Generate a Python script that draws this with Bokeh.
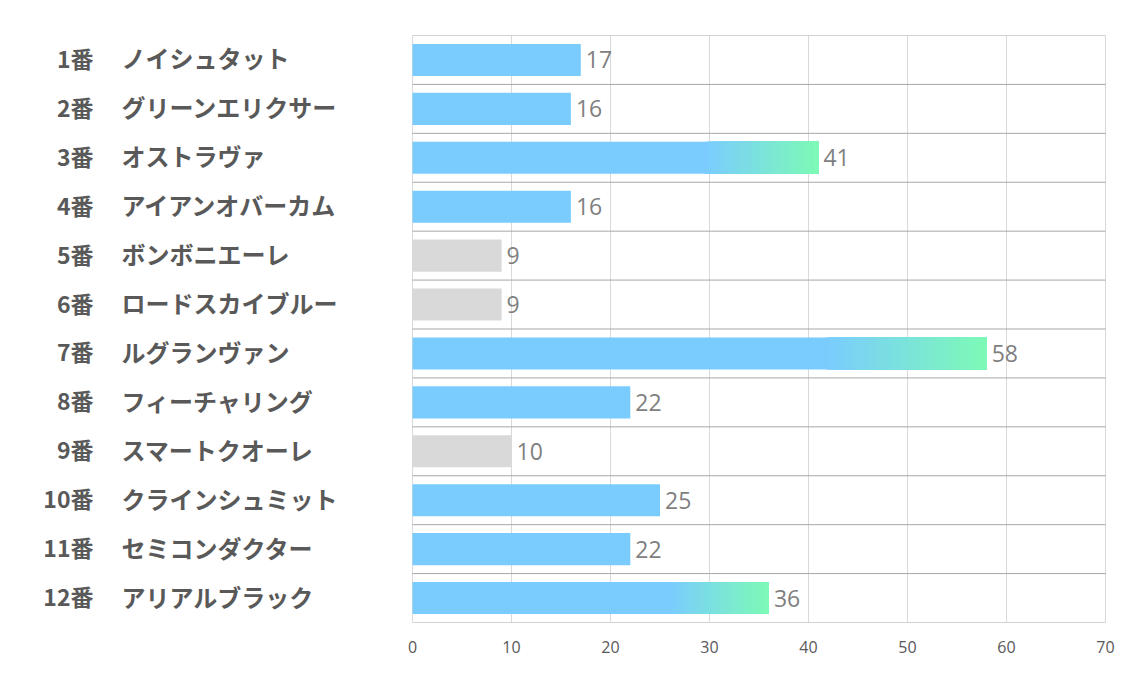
from bokeh.plotting import figure
from bokeh.models import ColumnDataSource, LabelSet, Range1d, FixedTicker
from bokeh.core.properties import value
from bokeh.embed import file_html
from bokeh.resources import INLINE

numbers = ["1番", "2番", "3番", "4番", "5番", "6番", "7番", "8番", "9番", "10番", "11番", "12番"]
names = ["ノイシュタット", "グリーンエリクサー", "オストラヴァ", "アイアンオバーカム", "ボンボニエーレ",
         "ロードスカイブルー", "ルグランヴァン", "フィーチャリング", "スマートクオーレ",
         "クラインシュミット", "セミコンダクター", "アリアルブラック"]
values = [17, 16, 41, 16, 9, 9, 58, 22, 10, 25, 22, 36]
kinds = ["blue", "blue", "grad", "blue", "gray", "gray", "grad", "blue", "gray", "blue", "blue", "grad"]
x_ticks = [0, 10, 20, 30, 40, 50, 60, 70]

BLUE = (122, 204, 255)
GREEN = (125, 250, 182)
GRAY = (217, 217, 217)
GRAD_START = 0.72
NSEG = 60

XMIN, XMAX = x_ticks[0], x_ticks[-1]
PX_PER_UNIT = 693 / (XMAX - XMIN)
LEFT_PX, RIGHT_PX = 412, 29


def hexc(c):
    return "#%02x%02x%02x" % tuple(int(round(v)) for v in c)


n = len(values)
rows = [i + 0.5 for i in range(n)]

p = figure(width=1134, height=680, output_backend="svg", toolbar_location=None,
           x_range=Range1d(XMIN - LEFT_PX / PX_PER_UNIT, XMAX + RIGHT_PX / PX_PER_UNIT),
           y_range=Range1d(n, 0), y_axis_location=None,
           min_border_left=0, min_border_right=0, min_border_top=35, min_border_bottom=58)
p.outline_line_color = None
p.background_fill_color = "white"
p.border_fill_color = "white"
p.xgrid.visible = False
p.ygrid.visible = False

# vertical grid lines
p.segment(x0=x_ticks, x1=x_ticks, y0=[0] * len(x_ticks), y1=[n] * len(x_ticks),
          line_color="#d9d9d9", line_width=1)

# bars
left, right, bottom, top, colors = [], [], [], [], []
H = 0.655
for y, v, k in zip(rows, values, kinds):
    bottom.append(y + H / 2); top.append(y - H / 2); left.append(0); right.append(v)
    if k == "gray":
        colors.append(hexc(GRAY))
    elif k == "blue":
        colors.append(hexc(BLUE))
    else:
        colors.append(hexc(BLUE))
        s = v * GRAD_START
        w = (v - s) / NSEG
        for j in range(NSEG):
            t = (j + 0.5) / NSEG
            c = tuple(BLUE[m] + (GREEN[m] - BLUE[m]) * t for m in range(3))
            left.append(s + j * w); right.append(v)
            colors.append(hexc(c))
            bottom.append(y + H / 2); top.append(y - H / 2)

bars = ColumnDataSource(dict(left=left, right=right, bottom=bottom, top=top, color=colors))
p.quad(left="left", right="right", bottom="bottom", top="top", fill_color="color",
       line_color=None, source=bars)

# horizontal separator lines
bounds = list(range(n + 1))
p.segment(x0=[XMIN] * len(bounds), x1=[XMAX] * len(bounds), y0=bounds, y1=bounds,
          line_color="#a6a6a6", line_width=1)

src = ColumnDataSource(dict(y=rows, x0=[0] * n, num=numbers, name=names,
                            v=values, vt=[str(v) for v in values]))

p.add_layout(LabelSet(x="x0", y="y", text="num", source=src, x_offset=-319, y_offset=2,
                      text_align="right", text_baseline="middle",
                      text_font=value("Noto Sans CJK JP"), text_font_style="bold",
                      text_font_size="23px", text_color="#595959"))
p.add_layout(LabelSet(x="x0", y="y", text="name", source=src, x_offset=-291, y_offset=2,
                      text_align="left", text_baseline="middle",
                      text_font=value("Noto Sans CJK JP"), text_font_style="bold",
                      text_font_size="24px", text_color="#595959"))
p.add_layout(LabelSet(x="v", y="y", text="vt", source=src, x_offset=5, y_offset=0,
                      text_align="left", text_baseline="middle",
                      text_font=value("Open Sans"), text_font_size="23px", text_color="#7f7f7f"))

p.xaxis.ticker = FixedTicker(ticks=x_ticks)
p.xaxis.axis_line_color = None
p.xaxis.major_tick_line_color = None
p.xaxis.minor_tick_line_color = None
p.xaxis.major_label_text_font = "Open Sans"
p.xaxis.major_label_text_font_size = "16px"
p.xaxis.major_label_text_color = "#595959"
p.xaxis.major_label_standoff = 12

open("out.html", "w").write(file_html(p, INLINE))
